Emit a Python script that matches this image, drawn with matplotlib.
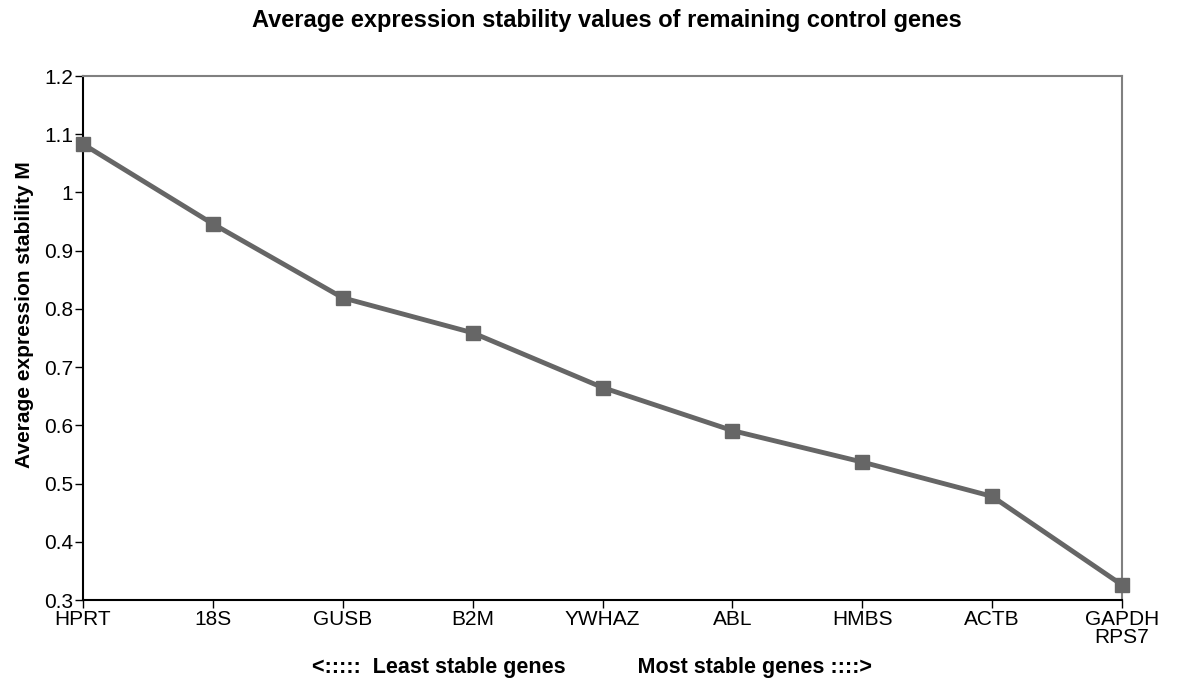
import numpy as np
import matplotlib
matplotlib.use("Agg")
import matplotlib.pyplot as plt

plt.rcParams['font.family'] = ['Liberation Sans', 'DejaVu Sans']

# data
genes = ["HPRT", "18S", "GUSB", "B2M", "YWHAZ", "ABL", "HMBS", "ACTB", "GAPDH\nRPS7"]
m_values = [1.083, 0.946, 0.819, 0.759, 0.665, 0.591, 0.537, 0.478, 0.326]
y_ticks = [0.3, 0.4, 0.5, 0.6, 0.7, 0.8, 0.9, 1.0, 1.1, 1.2]
y_tick_labels = ["0.3", "0.4", "0.5", "0.6", "0.7", "0.8", "0.9", "1", "1.1", "1.2"]

fig = plt.figure(figsize=(11.83, 6.83), dpi=100)
ax = fig.add_axes([0.0702, 0.1215, 0.8782, 0.7672])

x = np.arange(len(genes))
ax.plot(x, m_values, color="#666666", linewidth=3.5, marker="s",
        markersize=10, markerfacecolor="#666666", markeredgecolor="#666666",
        clip_on=False, zorder=3)

ax.set_xlim(0, len(genes) - 1)
ax.set_ylim(0.3, 1.2)
ax.set_xticks(x)
ax.set_xticklabels(genes, fontsize=15, linespacing=0.95)
ax.set_yticks(y_ticks)
ax.set_yticklabels(y_tick_labels, fontsize=15)
ax.tick_params(axis="both", direction="out", length=6, width=1, color="black", pad=1)

for side in ["left", "bottom"]:
    ax.spines[side].set_color("black")
    ax.spines[side].set_linewidth(1.5)
for side in ["top", "right"]:
    ax.spines[side].set_color("#808080")
    ax.spines[side].set_linewidth(1.5)

ax.set_ylabel("Average expression stability M", fontsize=15, fontweight="bold")
ax.yaxis.set_label_coords(-0.047, 0.544)
fig.text(607 / 1183, 1 - 20 / 683, "Average expression stability values of remaining control genes",
         ha="center", va="center", fontsize=17, fontweight="bold")
fig.text(592 / 1183, 1 - 668 / 683, "<:::::  Least stable genes            Most stable genes ::::>",
         ha="center", va="center", fontsize=15.5, fontweight="bold")

fig.savefig("out.png", dpi=100)
